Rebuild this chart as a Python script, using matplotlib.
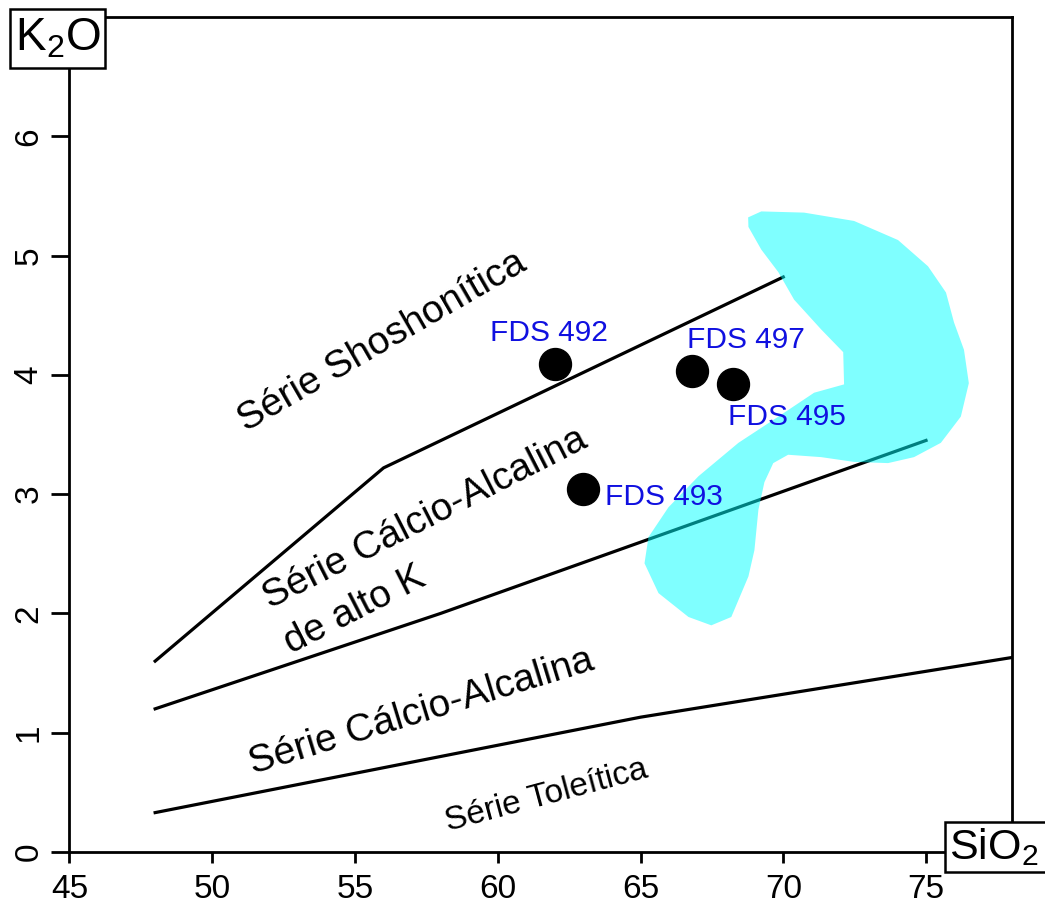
import matplotlib
matplotlib.use('Agg')
import matplotlib.pyplot as plt
from matplotlib.patches import Polygon, Rectangle

plt.rcParams['font.family'] = ['Liberation Sans', 'DejaVu Sans']
plt.rcParams['mathtext.fontset'] = 'custom'
plt.rcParams['mathtext.rm'] = 'Liberation Sans'

# boundary lines (SiO2, K2O)
shosho_x = [48, 56, 70]
shosho_y = [1.6, 3.22, 4.82]
highk_x = [48, 58, 75]
highk_y = [1.2, 2.0, 3.45]
thol_x = [48, 65, 78]
thol_y = [0.33, 1.13, 1.63]

# samples
samples = ['FDS 492', 'FDS 497', 'FDS 495', 'FDS 493']
sio2 = [62.0, 66.8, 68.24, 62.97]
k2o = [4.09, 4.03, 3.92, 3.04]

# cyan field outline
field_x = [68.77, 69.23, 70.73, 72.48, 74.02, 75.07, 75.70, 75.98, 76.33, 76.50,
           76.22, 75.52, 74.58, 73.67, 72.48, 71.33, 70.17, 69.65, 69.34, 69.13,
           68.99, 68.78, 68.18, 67.48, 66.68, 65.63, 65.14, 65.28, 65.98, 67.03,
           68.43, 69.83, 71.08, 72.13, 72.10, 71.33, 70.38, 69.83, 69.23, 68.78]
field_y = [5.32, 5.37, 5.36, 5.29, 5.13, 4.91, 4.69, 4.44, 4.21, 3.93,
           3.65, 3.43, 3.31, 3.26, 3.27, 3.31, 3.33, 3.26, 3.10, 2.87,
           2.53, 2.31, 1.97, 1.90, 1.97, 2.17, 2.42, 2.64, 2.89, 3.15,
           3.43, 3.65, 3.85, 3.92, 4.19, 4.38, 4.63, 4.86, 5.05, 5.24]

fig = plt.figure(figsize=(10.45, 9.08), dpi=100)
ax = fig.add_axes([0.0665, 0.0617, 0.9016, 0.9196])
ax.set_xlim(45, 78)
ax.set_ylim(0, 7)

ax.add_patch(Polygon(list(zip(field_x, field_y)), closed=True,
                     facecolor='cyan', edgecolor='none', alpha=0.5,
                     joinstyle='round', zorder=3))

for xs, ys in [(shosho_x, shosho_y), (highk_x, highk_y), (thol_x, thol_y)]:
    ax.plot(xs, ys, color='black', lw=2.3, zorder=2)

ax.plot(sio2, k2o, 'o', color='black', markersize=23, zorder=4)

# label offsets from each point
offsets = [(-0.21, 0.26), (1.9, 0.26), (1.9, -0.27), (2.86, -0.06)]
for name, x, y, (dx, dy) in zip(samples, sio2, k2o, offsets):
    ax.text(x + dx, y + dy, name, color='#1010e0', fontsize=21.5,
            ha='center', va='center', zorder=5)

# series labels
ax.text(55.94, 4.28, 'Série Shoshonítica', fontsize=28, rotation=30,
        rotation_mode='anchor', ha='center', va='center')
ax.text(57.45, 2.79, 'Série Cálcio-Alcalina', fontsize=28, rotation=27,
        rotation_mode='anchor', ha='center', va='center')
ax.text(55.0, 2.03, 'de alto K', fontsize=28, rotation=27,
        rotation_mode='anchor', ha='center', va='center')
ax.text(57.34, 1.17, 'Série Cálcio-Alcalina', fontsize=28, rotation=17,
        rotation_mode='anchor', ha='center', va='center')
ax.text(61.7, 0.47, 'Série Toleítica', fontsize=24, rotation=15,
        rotation_mode='anchor', ha='center', va='center')

ax.set_xticks([45, 50, 55, 60, 65, 70, 75])
ax.set_yticks([0, 1, 2, 3, 4, 5, 6])
ax.tick_params(axis='x', direction='out', length=8, width=2, labelsize=24, pad=8)
ax.tick_params(axis='y', direction='out', length=13, width=2, labelsize=24, pad=5,
               labelrotation=90)
for lab in ax.get_yticklabels():
    lab.set_va('center')
for sp in ax.spines.values():
    sp.set_linewidth(2)

# axis name boxes
fig.patches.append(Rectangle((10 / 1045, 1 - 68 / 908), 95 / 1045, 59 / 908,
                             transform=fig.transFigure, facecolor='white',
                             edgecolor='black', lw=1.8))
fig.text(57.5 / 1045, 1 - 39 / 908, r'$\mathregular{K_2O}$', fontsize=33,
         ha='center', va='center')
fig.patches.append(Rectangle((945 / 1045, 1 - 872 / 908), 110 / 1045, 50 / 908,
                             transform=fig.transFigure, facecolor='white',
                             edgecolor='black', lw=1.8))
fig.text(994 / 1045, 1 - 847 / 908, r'$\mathregular{SiO_2}$', fontsize=31,
         ha='center', va='center')

fig.savefig('out.png', dpi=100)
